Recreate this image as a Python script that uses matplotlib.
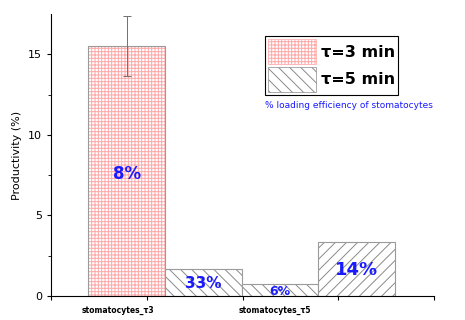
import numpy as np
import matplotlib.pyplot as plt
from matplotlib.patches import Patch

# bar data
positions = [0.79, 1.59, 2.39, 3.19]
heights = [15.5, 1.66, 0.75, 3.33]
errors = [1.85, 0, 0, 0]
hatches = ['+++++', '\\\\\\', '\\\\\\', '///']
hatch_colors = ['#ffa8a8', '#8a8a8a', '#8a8a8a', '#8a8a8a']
eff_labels = ['8%', '33%', '6%', '14%']
label_y = [7.6, 0.75, 0.25, 1.6]
label_sizes = [12, 11, 9, 13]
group_labels = ['stomatocytes_\u03c43', 'stomatocytes_\u03c45']
group_label_x = [0.7, 2.34]

plt.rcParams['hatch.linewidth'] = 0.7

fig = plt.figure(figsize=(4.65, 3.2), dpi=100)
ax = fig.add_axes([51/465, 24/320, 383/465, 282/320])

for x, h, hc, ht in zip(positions, heights, hatch_colors, hatches):
    ax.bar(x, h, width=0.8, color='white', edgecolor=hc, hatch=ht, linewidth=0)
    ax.bar(x, h, width=0.8, fill=False, edgecolor='#9a9a9a', linewidth=0.8)

ax.errorbar(positions[0], heights[0], yerr=errors[0], fmt='none',
            ecolor='#707070', elinewidth=0.7, capsize=3, capthick=0.7)

for x, y, t, s in zip(positions, label_y, eff_labels, label_sizes):
    ax.text(x, y, t, color='#1a1aff', fontsize=s, fontweight='bold',
            ha='center', va='center')

ax.set_xlim(0, 4)
ax.set_ylim(0, 17.5)
ax.set_xticks([0, 1, 2, 3, 4])
ax.set_xticklabels([])
ax.set_yticks([0, 5, 10, 15])
ax.set_yticks([2.5, 7.5, 12.5], minor=True)
ax.tick_params(axis='both', labelsize=8, width=0.8, length=3)
ax.tick_params(axis='y', which='minor', length=2, width=0.6)
ax.spines['top'].set_visible(False)
ax.spines['right'].set_visible(False)
ax.set_ylabel('Productivity (%)', fontsize=8)

for x, t in zip(group_label_x, group_labels):
    ax.text(x, -0.6, t, fontsize=5.5, fontweight='bold', ha='center', va='top')

handles = [Patch(facecolor='white', edgecolor=hatch_colors[0], hatch=hatches[0], linewidth=0.5),
           Patch(facecolor='white', edgecolor=hatch_colors[1], hatch=hatches[1], linewidth=0.5)]
leg = fig.legend(handles, ['\u03c4=3 min', '\u03c4=5 min'], loc='upper left',
                 bbox_to_anchor=(265/465, 1 - 36/320), borderaxespad=0, fancybox=False,
                 edgecolor='black', framealpha=1, handlelength=3.0, handleheight=2.0,
                 handletextpad=0.3, borderpad=0.2, labelspacing=0.2,
                 prop={'size': 11.5, 'weight': 'bold'})
leg.get_frame().set_linewidth(0.8)

fig.text(265/465, 1 - 106/320, '% loading efficiency of stomatocytes',
         color='#1a1aff', fontsize=6.5, ha='left', va='center')

fig.savefig('out.png', dpi=100)
